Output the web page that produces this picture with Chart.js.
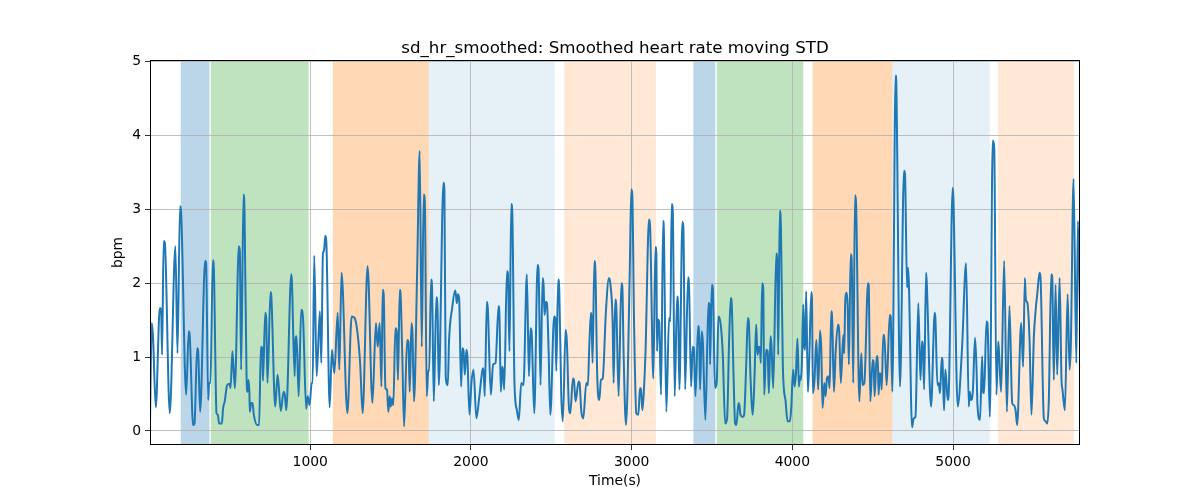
<!DOCTYPE html>
<html>
<head>
<meta charset="utf-8">
<script src="https://cdn.jsdelivr.net/npm/chart.js@4/dist/chart.umd.min.js"></script>
<style>
  html, body { margin: 0; padding: 0; background: #fff; }
  #c { display: block; }
</style>
</head>
<body>
<canvas id="c" width="1200" height="500"></canvas>
<script>
// ---- data ----
const TITLE = 'sd_hr_smoothed: Smoothed heart rate moving STD';
const X_LABEL = 'Time(s)';
const Y_LABEL = 'bpm';

const times = [
  3,14,22,39,64,72,78,88,95,126,161,174,190,196,228,244,250,271,280,296,302,315,346,352,365,371,379,394,400,417,425,433,450,458,468,483,498,504,516,531,556,562,570,585,591,604,610,616,622,624,633,641,649,670,682,693,701,706,
  720,726,734,753,757,782,797,817,834,842,851,882,886,903,909,915,928,944,955,975,984,996,1009,1015,1025,1040,1060,1069,1079,1085,1094,1100,1121,1135,1150,1171,1181,1195,1231,1258,1276,1310,1326,1357,1387,1409,1420,1432,
  1443,1451,1457,1468,1478,1486,1495,1501,1509,1517,1530,1538,1546,1557,1561,1573,1584,1603,1611,1619,1630,1636,1646,1665,1681,1694,1706,1713,1725,1735,1740,1752,1758,1769,1785,1792,1800,1829,1835,1843,1856,1864,1883,1902,1908,1912,1920,1927,1939,1947,1954,1962,1972,1978,1991,2003,2016,2034,2051,2072,2078,2086,2099,2105,2124,2138,2153,
  2172,2178,2186,2194,2199,2207,2224,2230,2240,2251,2257,2271,2286,2298,2313,2327,2348,2361,2371,2377,2394,2415,2421,2433,2446,2452,2458,2467,2473,2483,2494,2518,2525,2531,2543,2550,2562,2572,2589,2597,2610,2618,2635,2641,2651,2670,2676,2687,2699,2718,2728,2736,2747,2751,2757,2768,2774,2786,2799,2809,2820,2840,2859,2867,2882,2888,
  2898,2905,2919,2936,2942,2950,2965,2988,2998,3004,3015,3029,3042,3052,3058,3067,3077,3087,3108,3115,3135,3148,3154,3158,3164,3171,3183,3196,3200,3216,3233,3241,3249,3256,3268,3283,3289,3297,3316,3322,3333,3351,3357,3370,3380,3387,3397,3414,3420,3426,3436,3443,3459,3478,3484,3488,3499,3505,3519,3530,3540,3546,3555,3567,3582,3594,3607,3617,
  3623,3634,3644,3652,3665,3671,3677,3692,3700,3713,3723,3729,3740,3754,3765,3775,3783,3792,3798,3804,3812,3819,3825,3837,3846,3854,3864,3870,3881,3900,3906,3912,3922,3929,3941,3958,3970,3985,3993,4005,4014,4022,4032,4041,4047,4053,4059,4068,4074,4080,4086,4097,4105,4118,4122,4128,4138,4149,4155,4161,4172,4180,4188,4199,4207,4215,4224,4232,4242,4248,4259,4269,4284,4292,4302,4317,4323,4329,4338,4344,
  4352,4363,4369,4379,4390,4396,4417,4429,4437,4448,4471,4475,4485,4500,4506,4512,4525,4531,4537,4543,4550,4556,4566,4572,4587,4606,4612,4622,4643,4647,4670,4695,4701,4714,4720,4726,4745,4755,4766,4784,4797,4807,4813,4820,4832,4836,4863,4886,4890,4903,4911,4919,4930,4934,4944,4952,4959,4967,4973,4998,5002,5029,5056,5081,
  5098,5104,5112,5123,5137,5146,5152,5168,5181,5187,5193,5208,5214,5229,5247,5256,5270,5281,5287,5299,5318,5335,5351,5368,5378,5389,5399,5424,5436,5447,5453,5463,5476,5488,5503,5515,5524,5538,5544,5565,5576,5586,5596,5611,5617,5627,5638,5648,5663,5675,5681,5696,5713,5725,5733,5750,5767,5777,5790
];

const sdHr = [
  0.13,1.46,1.26,0.32,1.66,1.66,1.03,2.57,2.55,0.24,2.50,1.05,3.04,2.98,0.49,1.35,1.30,0.08,0.10,1.12,1.10,0.26,2.30,2.28,0.42,0.65,0.65,2.31,2.21,0.24,0.22,0.10,0.10,0.31,0.40,0.62,0.64,0.58,1.08,0.58,2.50,2.43,0.83,3.20,2.98,0.71,0.53,0.69,0.49,0.26,0.38,0.38,0.22,0.08,0.08,1.14,1.12,0.68,
  1.60,1.53,0.65,1.88,1.85,0.33,0.76,0.27,0.53,0.49,0.28,2.12,2.03,0.74,1.26,1.28,0.47,1.64,1.53,0.30,0.47,0.35,0.65,0.65,2.37,0.74,1.62,0.92,2.41,2.43,2.64,2.57,0.32,1.10,0.78,1.60,0.83,2.14,0.24,1.55,1.53,0.94,0.24,2.23,0.38,1.46,1.14,1.46,
  0.60,1.91,1.85,0.58,0.56,0.26,0.47,0.33,0.44,0.35,1.39,1.35,0.69,1.91,1.89,1.01,0.06,1.23,1.21,0.53,1.46,1.33,0.40,2.12,3.79,1.14,3.20,3.11,0.47,0.83,0.81,2.05,1.94,0.40,1.81,1.66,0.62,3.36,3.25,0.74,0.62,1.23,1.66,1.90,1.82,1.73,1.85,1.78,0.60,1.12,1.08,0.76,1.10,1.01,0.22,0.65,0.83,0.17,0.44,0.83,0.85,0.47,1.75,1.66,0.49,0.90,0.92,
  1.69,1.53,0.53,0.87,0.83,0.56,2.16,2.14,1.08,3.07,2.98,0.65,0.28,0.15,0.65,0.62,2.12,0.74,1.39,1.35,0.24,2.25,2.18,0.62,2.07,1.98,1.57,1.75,1.73,1.12,0.22,1.55,1.53,0.81,2.05,1.89,0.49,0.13,1.37,1.21,0.31,0.24,0.71,0.69,0.40,0.67,0.65,0.26,0.17,0.65,0.62,1.12,1.60,1.53,0.92,2.30,2.21,0.74,0.42,0.69,0.71,1.62,2.07,2.00,1.46,0.65,
  1.78,1.66,0.47,2.00,1.96,1.05,0.08,2.12,3.27,3.20,1.48,0.24,0.22,0.58,0.56,0.28,0.58,1.12,2.86,2.75,0.71,2.49,2.39,1.08,1.51,1.48,0.49,2.84,2.75,0.26,1.53,1.48,3.07,2.98,0.47,1.82,1.71,0.56,2.83,2.75,0.56,2.08,1.98,0.60,1.14,1.12,0.47,1.42,1.30,0.56,1.35,1.21,0.15,1.73,1.71,0.90,1.98,1.94,0.58,0.67,1.55,1.53,1.43,1.05,0.10,0.17,1.26,1.80,
  1.71,0.76,0.10,0.08,0.38,0.35,0.22,0.19,0.22,0.90,1.53,1.48,0.71,0.22,0.76,1.44,1.03,1.14,1.12,0.92,2.00,1.94,0.49,1.10,1.08,0.51,1.28,1.17,0.58,2.40,2.30,1.03,2.98,2.75,0.87,0.40,0.13,0.13,0.31,0.83,0.60,0.76,1.25,0.60,0.74,0.69,0.90,1.71,1.14,1.10,1.89,0.53,0.94,1.88,1.80,0.51,0.69,1.23,0.94,0.56,1.36,1.12,0.31,0.65,0.47,0.71,0.74,0.58,1.62,1.51,0.53,1.05,1.44,1.33,0.65,1.30,1.05,1.75,1.87,1.70,
  0.90,2.39,2.34,0.65,3.19,3.11,0.40,1.05,0.62,0.65,2.00,1.98,0.40,0.96,0.92,0.47,1.01,1.01,0.49,0.78,0.76,0.56,1.30,1.30,0.62,1.57,1.55,0.53,4.81,4.69,0.60,3.52,3.47,1.94,2.21,1.94,0.05,0.17,0.19,1.73,0.69,1.21,1.12,0.56,2.14,2.03,0.33,1.60,1.53,0.62,0.65,0.51,0.99,0.96,0.28,0.83,0.65,0.42,0.51,3.29,3.16,0.33,1.12,2.27,
  0.33,0.53,0.42,0.53,1.26,0.85,0.35,0.15,1.01,0.53,0.51,1.48,1.46,0.19,3.93,3.84,0.49,1.21,1.03,0.53,2.30,0.26,1.69,0.38,0.35,0.28,0.08,1.46,0.87,2.07,1.78,1.73,1.23,0.22,1.28,1.66,1.85,2.14,2.09,0.17,0.13,0.10,0.42,2.12,2.09,0.69,1.98,0.76,2.07,0.69,0.56,0.28,1.85,0.83,1.17,3.41,0.92,2.84,1.62
];

// shaded phases (start, end in seconds) and their kind
const spanStarts = [194, 381, 1141, 1737, 2581, 3384, 3530, 4126, 4622, 5279];
const spanEnds   = [373, 990, 1737, 2522, 3152, 3521, 4068, 4622, 5229, 5752];
const spanKinds  = ['blue', 'green', 'orange', 'lightblue', 'lightorange', 'blue', 'green', 'orange', 'lightblue', 'lightorange'];

const xTicks = [1000, 2000, 3000, 4000, 5000];
const yTicks = [0, 1, 2, 3, 4, 5];
const xRange = [3, 5790];
const yRange = [-0.19, 5.02];

// ---- styles ----
const kindColors = {
  blue: 'rgba(31,119,180,0.3)',
  green: 'rgba(44,160,44,0.3)',
  orange: 'rgba(255,127,14,0.3)',
  lightblue: 'rgba(31,119,180,0.11)',
  lightorange: 'rgba(255,127,14,0.17)'
};
const FONT = 'DejaVu Sans';
Chart.defaults.font.family = FONT;
Chart.defaults.color = '#000';

const points = times.map((t, i) => ({ x: t, y: sdHr[i] }));

const bgAndSpans = {
  id: 'bgAndSpans',
  beforeDraw(chart) {
    const { ctx, chartArea, scales } = chart;
    ctx.save();
    ctx.fillStyle = '#fff';
    ctx.fillRect(0, 0, chart.width, chart.height);
    for (let i = 0; i < spanStarts.length; i++) {
      const x0 = scales.x.getPixelForValue(spanStarts[i]);
      const x1 = scales.x.getPixelForValue(spanEnds[i]);
      ctx.fillStyle = kindColors[spanKinds[i]];
      ctx.fillRect(x0, chartArea.top, x1 - x0, chartArea.bottom - chartArea.top);
    }
    ctx.restore();
  },
  afterDraw(chart) {
    const { ctx, chartArea } = chart;
    ctx.save();
    ctx.strokeStyle = '#000';
    ctx.lineWidth = 1;
    ctx.strokeRect(Math.round(chartArea.left) + 0.5, Math.round(chartArea.top) + 0.5,
      Math.round(chartArea.right - chartArea.left) - 1, Math.round(chartArea.bottom - chartArea.top) - 1);
    ctx.fillStyle = '#000';
    ctx.font = '16.67px "' + FONT + '"';
    ctx.textAlign = 'center';
    ctx.textBaseline = 'alphabetic';
    ctx.fillText(TITLE, (chartArea.left + chartArea.right) / 2, 53);
    ctx.restore();
  }
};

new Chart(document.getElementById('c'), {
  type: 'line',
  data: {
    datasets: [{
      label: 'sd_hr_smoothed',
      data: points,
      borderColor: '#1f77b4',
      borderWidth: 2,
      pointRadius: 0,
      fill: false,
      cubicInterpolationMode: 'monotone'
    }]
  },
  options: {
    responsive: false,
    animation: false,
    devicePixelRatio: 1,
    layout: { padding: { left: 0, right: 120, top: 60, bottom: 0 } },
    plugins: {
      legend: { display: false },
      tooltip: { enabled: false },
      title: { display: false }
    },
    scales: {
      x: {
        type: 'linear',
        position: 'bottom',
        min: xRange[0],
        max: xRange[1],
        afterBuildTicks(s) { s.ticks = xTicks.map(v => ({ value: v })); },
        afterFit(s) { s.height = 55; },
        ticks: {
          autoSkip: false,
          maxRotation: 0,
          padding: 4,
          color: '#000',
          font: { size: 13.9, family: FONT },
          callback: v => String(v)
        },
        grid: { color: '#b0b0b0', lineWidth: 0.8, tickColor: '#000', tickLength: 5, drawTicks: true },
        border: { display: false },
        title: { display: true, text: X_LABEL, color: '#000', font: { size: 13.9, family: FONT }, padding: { top: 0, bottom: 10 } }
      },
      y: {
        type: 'linear',
        position: 'left',
        min: yRange[0],
        max: yRange[1],
        afterBuildTicks(s) { s.ticks = yTicks.map(v => ({ value: v })); },
        afterFit(s) { s.width = 150; },
        ticks: {
          autoSkip: false,
          padding: 4,
          color: '#000',
          font: { size: 13.9, family: FONT },
          callback: v => String(v)
        },
        grid: { color: '#b0b0b0', lineWidth: 0.8, tickColor: '#000', tickLength: 5, drawTicks: true },
        border: { display: false },
        title: { display: true, text: Y_LABEL, color: '#000', font: { size: 13.9, family: FONT }, padding: { top: 110, bottom: 0 } }
      }
    }
  },
  plugins: [bgAndSpans]
});
</script>
</body>
</html>
